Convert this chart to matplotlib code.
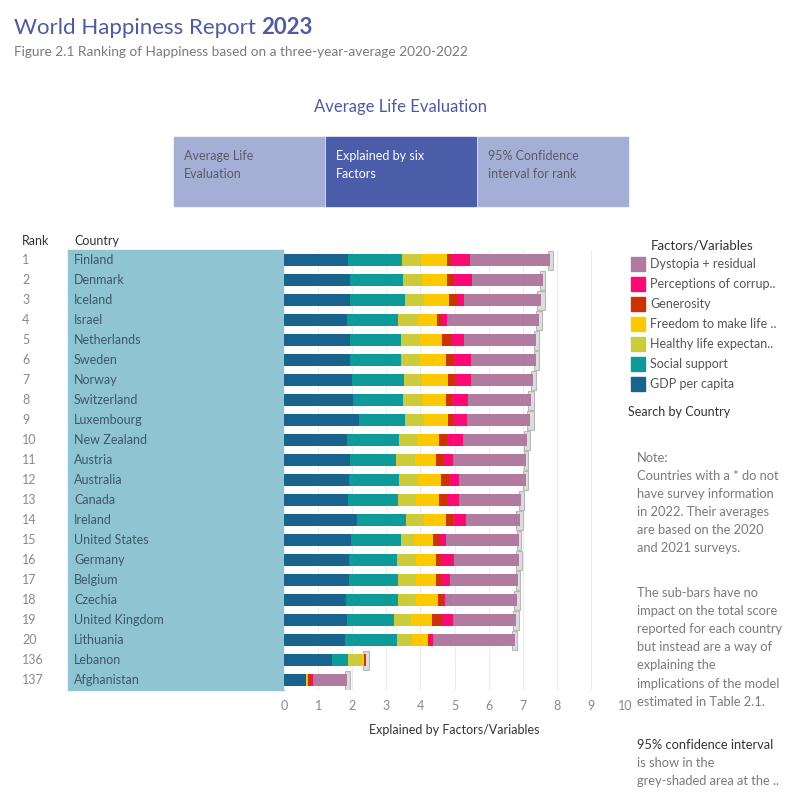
import numpy as np
import matplotlib
matplotlib.use("Agg")
import matplotlib.pyplot as plt
from matplotlib.patches import Rectangle
from matplotlib import transforms

plt.rcParams["font.family"] = ["Lato", "DejaVu Sans"]

# data
ranks = [1, 2, 3, 4, 5, 6, 7, 8, 9, 10, 11, 12, 13, 14, 15, 16, 17, 18, 19, 20, 136, 137]
countries = ["Finland", "Denmark", "Iceland", "Israel", "Netherlands", "Sweden", "Norway",
             "Switzerland", "Luxembourg", "New Zealand", "Austria", "Australia", "Canada",
             "Ireland", "United States", "Germany", "Belgium", "Czechia", "United Kingdom",
             "Lithuania", "Lebanon", "Afghanistan"]
gdp = [1.888, 1.949, 1.926, 1.833, 1.942, 1.921, 1.994, 2.026, 2.200, 1.850, 1.935, 1.906,
       1.877, 2.140, 1.965, 1.906, 1.906, 1.818, 1.850, 1.790, 1.410, 0.645]
social = [1.585, 1.548, 1.620, 1.521, 1.488, 1.510, 1.520, 1.452, 1.355, 1.520, 1.345, 1.460,
          1.460, 1.440, 1.465, 1.400, 1.430, 1.520, 1.380, 1.520, 0.470, 0.000]
health = [0.535, 0.537, 0.559, 0.577, 0.545, 0.562, 0.544, 0.579, 0.560, 0.530, 0.560, 0.560,
          0.530, 0.530, 0.380, 0.560, 0.530, 0.500, 0.490, 0.440, 0.410, 0.070]
freedom = [0.772, 0.734, 0.738, 0.569, 0.672, 0.754, 0.752, 0.680, 0.700, 0.650, 0.620, 0.670,
           0.680, 0.640, 0.560, 0.590, 0.590, 0.680, 0.620, 0.470, 0.050, 0.000]
generosity = [0.126, 0.208, 0.250, 0.124, 0.251, 0.225, 0.212, 0.155, 0.150, 0.230, 0.200, 0.240,
              0.230, 0.210, 0.200, 0.140, 0.140, 0.150, 0.290, 0.040, 0.050, 0.080]
corruption = [0.535, 0.525, 0.187, 0.158, 0.394, 0.520, 0.463, 0.501, 0.410, 0.470, 0.300, 0.290,
              0.350, 0.380, 0.180, 0.380, 0.270, 0.040, 0.330, 0.120, 0.020, 0.060]
dystopia = [2.363, 2.084, 2.250, 2.691, 2.110, 1.903, 1.830, 1.847, 1.853, 1.873, 2.137, 1.969,
            1.834, 1.571, 2.144, 1.916, 1.993, 2.137, 1.836, 2.383, 0.000, 1.004]
ci_low = [7.733, 7.506, 7.411, 7.376, 7.337, 7.322, 7.235, 7.153, 7.125, 7.034, 7.024, 7.023,
          6.890, 6.814, 6.827, 6.814, 6.792, 6.757, 6.715, 6.683, 2.305, 1.784]
ci_high = [7.875, 7.667, 7.650, 7.569, 7.468, 7.468, 7.395, 7.328, 7.330, 7.212, 7.170, 7.168,
           7.031, 7.008, 6.962, 6.970, 6.927, 6.933, 6.877, 6.844, 2.479, 1.934]

factor_names = ["GDP per capita", "Social support", "Healthy life expectan..",
                "Freedom to make life ..", "Generosity", "Perceptions of corrup..",
                "Dystopia + residual"]
factor_colors = ["#19638f", "#0f9a9a", "#cbcb3c", "#fdc800", "#cc3300", "#fb0a74", "#b07aa1"]

note_blocks = [
    (458, ["Note:", "Countries with a * do not", "have survey information",
           "in 2022. Their averages", "are based on the 2020", "and 2021 surveys."]),
    (593, ["The sub-bars have no", "impact on the total score", "reported for each country",
           "but instead are a way of", "explaining the", "implications of the model",
           "estimated in Table 2.1."]),
    (745, ["95% confidence interval", "is show in the", "grey-shaded area at the .."]),
]

W = 799
def fx(px):
    return px / W
def fy(py):
    return 1 - py / W

fig = plt.figure(figsize=(7.99, 7.99), dpi=100)
ax = fig.add_axes([fx(284), fy(690), fx(625) - fx(284), (690 - 250) / W])

y = np.arange(len(countries))
series = [gdp, social, health, freedom, generosity, corruption, dystopia]

# confidence interval shading
ax.barh(y, np.array(ci_high) - np.array(ci_low), left=ci_low, height=0.95,
        color="#dcdcdc", edgecolor="#b8b8b8", linewidth=0.8, zorder=1)

left = np.zeros(len(countries))
for vals, col, name in zip(series, factor_colors, factor_names):
    ax.barh(y, vals, left=left, height=0.6, color=col, label=name, zorder=2)
    left += np.array(vals)

ax.set_xlim(0, 10)
ax.set_ylim(len(countries) - 0.5, -0.5)
ax.set_xticks(range(0, 11))
ax.set_yticks([])
ax.grid(axis="x", color="#ececec", linewidth=0.8, zorder=0)
ax.set_axisbelow(True)
for s in ax.spines.values():
    s.set_visible(False)
ax.tick_params(axis="x", length=0, pad=7, labelsize=9, labelcolor="#8a8a8a")
ax.set_xlabel("Explained by Factors/Variables", fontsize=9, color="#333333", labelpad=9)

# country panel and labels
fig.patches.append(Rectangle((fx(68), fy(690)), fx(284) - fx(68), (690 - 250) / W,
                             transform=fig.transFigure, color="#8fc4d3", zorder=-1))
tr = transforms.blended_transform_factory(fig.transFigure, ax.transData)
for i, (r, c) in enumerate(zip(ranks, countries)):
    ax.text(fx(22), i, str(r), transform=tr, fontsize=9, color="#8a8a8a", va="center")
    ax.text(fx(74), i, c, transform=tr, fontsize=9, color="#3c5868", va="center")
fig.text(fx(22), fy(241), "Rank", fontsize=9, color="#333333", va="center")
fig.text(fx(74), fy(241), "Country", fontsize=9, color="#333333", va="center")

# titles
t1 = fig.text(fx(14), fy(28), "World Happiness Report", fontsize=16, color="#4e5ba0", va="center")
fig.canvas.draw()
bb = t1.get_window_extent()
fig.text(bb.x1 / fig.bbox.width + fx(5), fy(28), "2023", fontsize=16, color="#4e5ba0",
         va="center", fontweight="bold")
fig.text(fx(14), fy(52), "Figure 2.1 Ranking of Happiness based on a three-year-average 2020-2022",
         fontsize=9.8, color="#7a7a7a", va="center")
fig.text(fx(400), fy(107), "Average Life Evaluation", fontsize=12, color="#4e5ba0",
         va="center", ha="center")

# header boxes
boxes = [("Average Life\nEvaluation", 174, "#a5afd6", "#5a5a6a"),
         ("Explained by six\nFactors", 326, "#4b5ca8", "white"),
         ("95% Confidence\ninterval for rank", 478, "#a5afd6", "#5a5a6a")]
for txt, x0, bg, fg in boxes:
    fig.patches.append(Rectangle((fx(x0), fy(206)), fx(150), fx(69),
                                 transform=fig.transFigure, color=bg, zorder=-1))
    fig.text(fx(x0 + 10), fy(165), txt, fontsize=9, color=fg, va="center", linespacing=1.6)

# legend
fig.text(fx(651), fy(246), "Factors/Variables", fontsize=9.5, color="#333333", va="center")
for k, (name, col) in enumerate(zip(factor_names[::-1], factor_colors[::-1])):
    yy = 264 + 20 * k
    fig.patches.append(Rectangle((fx(631), fy(yy + 7)), fx(14), fx(14),
                                 transform=fig.transFigure, color=col))
    fig.text(fx(650), fy(yy), name, fontsize=9, color="#555555", va="center")
fig.text(fx(628), fy(412), "Search by Country", fontsize=9, color="#333333", va="center")

# notes, one line every 18 px
for y0, lines in note_blocks:
    for k, line in enumerate(lines):
        col = "#333333" if line.startswith("95%") else "#7a7a7a"
        fig.text(fx(637), fy(y0 + 18.1 * k), line, fontsize=9.3, color=col, va="center")

fig.savefig("out.png", dpi=100)
